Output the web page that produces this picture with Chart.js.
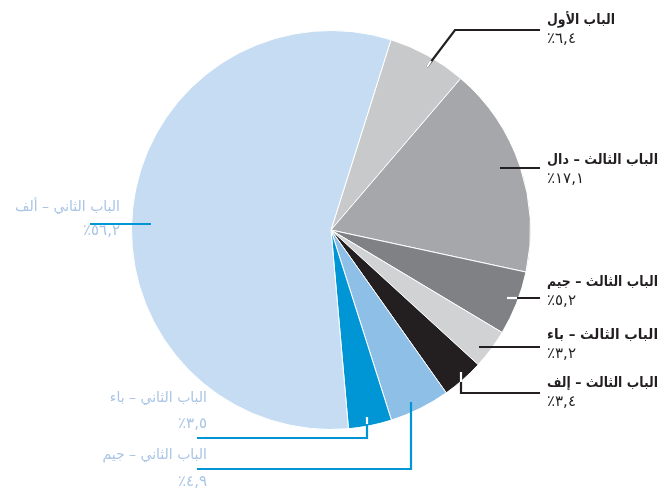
<!DOCTYPE html>
<html>
<head>
<meta charset="utf-8">
<script src="https://cdn.jsdelivr.net/npm/chart.js@4"></script>
<style>
  html, body { margin: 0; padding: 0; background: #fff; }
  #wrap { width: 672px; height: 488px; }
</style>
</head>
<body>
<div id="wrap"><canvas id="pie" width="672" height="488"></canvas></div>
<script>
// chart data
const labels = ['الباب الأول', 'الباب الثالث – دال', 'الباب الثالث – جيم', 'الباب الثالث – باء',
                'الباب الثالث – إلف', 'الباب الثاني – جيم', 'الباب الثاني – باء', 'الباب الثاني – ألف'];
const values = [6.4, 17.1, 5.2, 3.2, 3.4, 4.9, 3.5, 56.2];
const valueLabels = ['٦,٤٪', '١٧,١٪', '٥,٢٪', '٣,٢٪', '٣,٤٪', '٤,٩٪', '٣,٥٪', '٥٦,٢٪'];
const colors = ['#c8c9cb', '#a6a7aa', '#808184', '#d1d2d4', '#231f20', '#8ebfe7', '#0096d6', '#c5dcf2'];

// label placement: text anchor + leader polyline (white part drawn inside dark slices)
const DARK = '#231f20', BLUE = '#0096d6', LIGHT = '#a9c5e6';
const callouts = [
  { x: 547, y: 20, align: 'left', color: DARK, weight: '600',
    line: [[427, 67], [455, 30], [540, 30]], lineColor: DARK, white: [[427, 67], [431, 61]] },
  { x: 547, y: 160, align: 'left', color: DARK, weight: '600',
    line: [[500, 168], [540, 168]], lineColor: DARK },
  { x: 547, y: 282, align: 'left', color: DARK, weight: '600',
    line: [[507, 298], [540, 298]], lineColor: DARK, white: [[507, 298], [517, 298]] },
  { x: 547, y: 335, align: 'left', color: DARK, weight: '600',
    line: [[479, 347], [540, 347]], lineColor: DARK },
  { x: 547, y: 383, align: 'left', color: DARK, weight: '600',
    line: [[461, 372], [461, 393], [540, 393]], lineColor: DARK, white: [[461, 372], [461, 382]] },
  { x: 207, y: 455, align: 'right', color: LIGHT, weight: 'normal', pctDy: 27,
    line: [[411, 402], [411, 469], [197, 469]], lineColor: BLUE },
  { x: 207, y: 398, align: 'right', color: LIGHT, weight: 'normal', pctDy: 26,
    line: [[367, 417], [367, 438], [197, 438]], lineColor: BLUE, white: [[367, 417], [367, 424]] },
  { x: 120, y: 207, align: 'right', color: LIGHT, weight: 'normal', pctDy: 24,
    line: [[90, 224], [151, 224]], lineColor: BLUE }
];

function polyline(ctx, pts) {
  ctx.beginPath();
  ctx.moveTo(pts[0][0], pts[0][1]);
  for (let i = 1; i < pts.length; i++) ctx.lineTo(pts[i][0], pts[i][1]);
  ctx.stroke();
}

const calloutPlugin = {
  id: 'callouts',
  afterDatasetsDraw(chart) {
    const ctx = chart.ctx;
    ctx.save();
    ctx.lineWidth = 2.2;
    ctx.lineCap = 'butt';
    ctx.lineJoin = 'miter';
    callouts.forEach((c, i) => {
      ctx.strokeStyle = c.lineColor;
      polyline(ctx, c.line);
      if (c.white) {
        ctx.strokeStyle = '#ffffff';
        polyline(ctx, c.white);
      }
      ctx.direction = 'rtl';
      ctx.textAlign = c.align;
      ctx.textBaseline = 'middle';
      ctx.fillStyle = c.color;
      // titles ~111px wide in the original: squeeze DejaVu a little
      ctx.save();
      ctx.font = c.weight + ' 14px "DejaVu Sans"';
      const w = ctx.measureText(labels[i]).width;
      const target = labels[i].length > 12 ? 111 : 68;
      const sx = Math.min(1, target / w);
      ctx.translate(c.x, c.y);
      ctx.scale(sx, 1);
      ctx.fillText(labels[i], 0, 0);
      ctx.restore();
      ctx.font = '15px "DejaVu Sans"';
      ctx.fillText(valueLabels[i], c.x, c.y + (c.pctDy || 19));
    });
    ctx.restore();
  }
};

const chart = new Chart(document.getElementById('pie'), {
  type: 'pie',
  data: {
    labels: labels,
    datasets: [{
      data: values,
      backgroundColor: colors,
      borderColor: '#ffffff',
      borderWidth: 1
    }]
  },
  options: {
    responsive: false,
    animation: false,
    rotation: 17.5,
    layout: { padding: { left: 131, right: 141, top: 30, bottom: 58 } },
    plugins: {
      legend: { display: false },
      tooltip: { enabled: false }
    }
  },
  plugins: [calloutPlugin]
});
</script>
</body>
</html>
